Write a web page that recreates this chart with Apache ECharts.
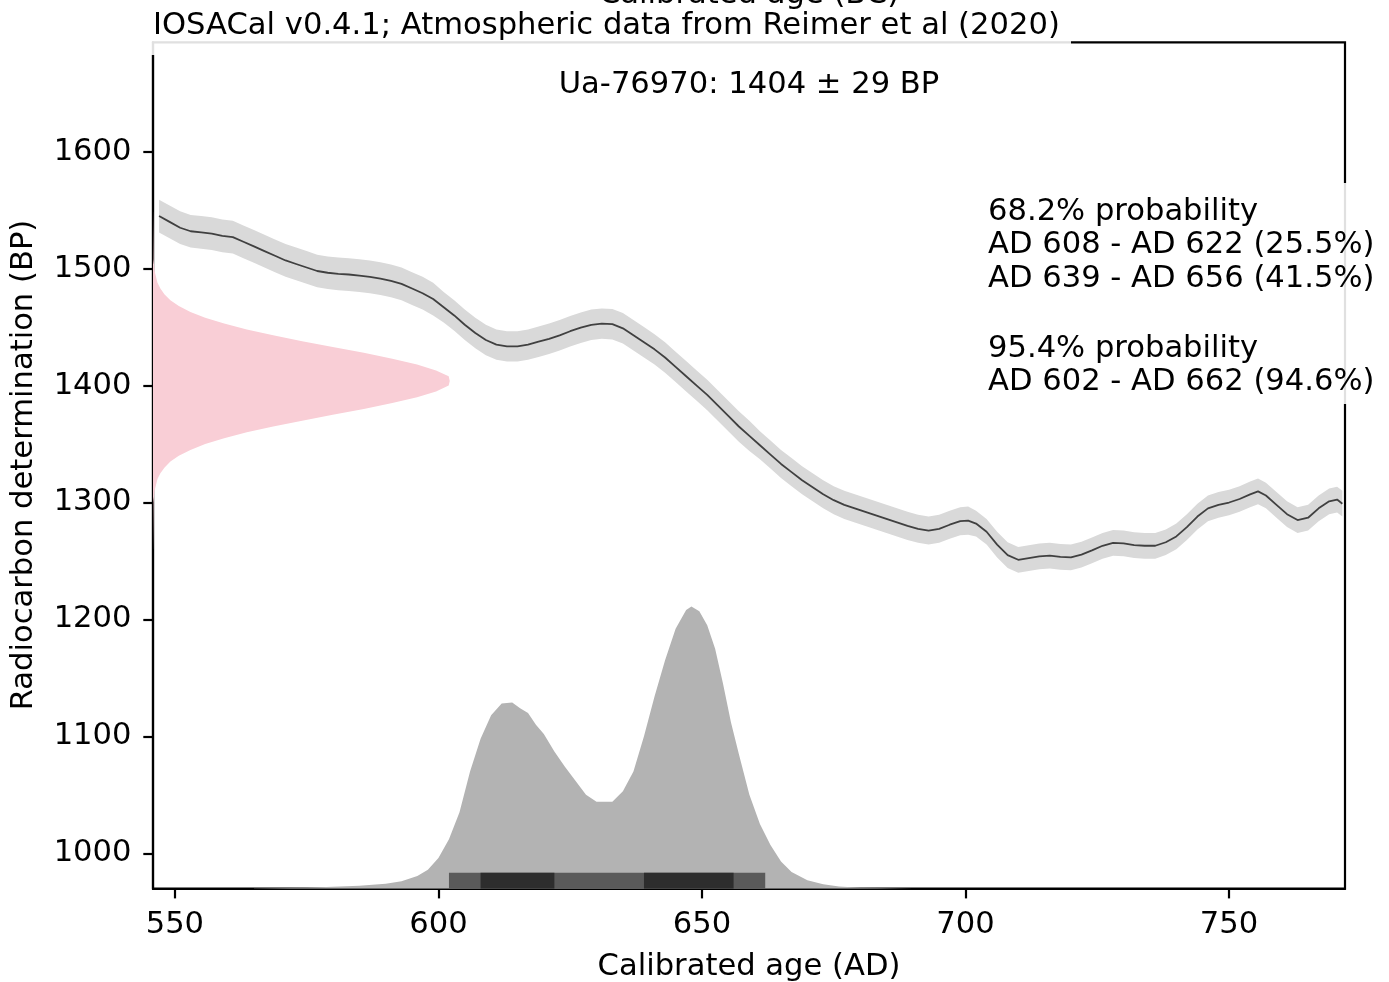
<!DOCTYPE html>
<html><head><meta charset="utf-8">
<script src="https://cdn.jsdelivr.net/npm/echarts@6.0.0/dist/echarts.min.js"></script>
<style>html,body{margin:0;padding:0;background:#fff}#c{width:1389px;height:982px}</style>
</head><body><div id="c"></div>
<script>
// ---------- data ----------
const xTicks = [550, 600, 650, 700, 750];
const yTicks = [1000, 1100, 1200, 1300, 1400, 1500, 1600];

// calibration curve (IntCal20) mean and 1-sigma
const curveYears = [547,549,551,553,555,557,559,561,563,565,567,569,571,573,575,577,579,581,583,585,587,589,591,593,595,597,599,601,603,605,607,609,611,613,615,617,619,621,623,625,627,629,631,633,635,637,639,641,643,645,647,649,651,653,655,657,659,661,663,665,667,669,671,673,675,677,679,681,683,685,687,689,691,693,695,697,699,700.5,702,704,706,708,710,712,714,716,718,720,722,724,726,728,730,732,734,736,738,740,742,744,746,748,750,752,754,755.5,757,759,761,763,765,767,769,770.5,771.5];
const curveBP = [1545,1540,1535,1532,1531,1530,1528,1527,1523,1519,1515,1511,1507,1504,1501,1498,1496.5,1495.5,1495,1494,1493,1491.5,1489.5,1487,1483,1479,1474,1467,1460,1452,1445,1439,1435,1433.5,1433.5,1435,1437.5,1440,1443,1446.5,1449.5,1452,1453,1452.5,1449,1443,1437,1431,1424,1416,1408,1400,1392,1383,1374,1365,1357,1349,1341,1333,1326,1319,1313,1307,1302,1298,1295,1292,1289,1286,1283,1280,1277.5,1276,1277.5,1281,1284,1284.5,1282,1275,1264,1255,1251,1252.5,1254,1254.5,1253.5,1253,1255.5,1259,1263,1265.5,1265,1263.5,1263,1263,1266,1271,1279,1288,1295,1298,1300,1303,1307,1309.5,1306,1298,1290,1285,1287,1295,1301,1302.5,1299];
const curveSigma = [14,14,14,14,14,14,14,14,14,14,14,14,14,14,14,14,14,14,14,14,14,14,14,14,14,14,14,13,13,13,13,13,13,13,13,13,13,13,13,13,13,13,13,13,13,13,13,13,13,13,13,13,13,13,13,13,13,12,12,12,12,12,12,12,12,12,12,12,12,12,12,12,12,12,12,12,12,12,11,11,11,11,11,11,11,11,11,11,11,11,11,11,11,11,11,11,11,11,11,11,11,11,11,11,11,11,11,11,11,11,11,11,11,11,11];

// radiocarbon determination 1404 ± 29 BP (pink profile along the y axis)
const pinkBP = [1256,1300,1310,1320,1325,1330,1335,1340,1345,1350,1355,1360,1365,1370,1375,1380,1385,1390,1395,1400,1404,1408,1413,1418,1423,1428,1433,1438,1443,1448,1453,1458,1463,1468,1473,1478,1483,1488,1498,1508,1552];
const pinkWidth = [0,0.09,0.3,0.85,1.4,2.2,3.3,4.9,7.1,9.9,13.5,17.8,22.8,28.3,34.1,40,45.4,50.1,53.7,56.1,56.3,56.1,53.7,50.1,45.4,40,34.1,28.3,22.8,17.8,13.5,9.9,7.1,4.9,3.3,2.2,1.4,0.85,0.3,0.09,0];

// calibrated age distribution (grey)
const calYears = [565,575,580,585,590,593,596,598,600,602,604,606,608,610,612,614,615.5,617,618.5,620,622,624,626,628,630,633,635,637,639,641,643,645,647,648,649.5,651,652.5,654,655.5,657,659,661,663,665,667,670,673,676,680,690];
const calValues = [969.9,970.5,971.3,972.3,974,976,980.5,986,996,1012,1035,1070,1098,1118,1128,1129,1124,1120,1110,1102,1087,1074,1062,1050,1044,1044,1053,1070,1100,1134,1165,1192,1208,1211,1207,1195,1175,1145,1112,1085,1050,1025,1007,993,984,977,973.5,971.5,970.5,969.9];

// HPD ranges
const hpd95 = [[602, 662]];
const hpd68 = [[608, 622], [639, 656]];

const titleText = 'IOSACal v0.4.1; Atmospheric data from Reimer et al (2020)';
const topAxisText = 'Calibrated age (BC)';
const sampleText = 'Ua-76970: 1404 \u00b1 29 BP';
const probLines = ['68.2% probability', 'AD 608 - AD 622 (25.5%)', 'AD 639 - AD 656 (41.5%)', '95.4% probability', 'AD 602 - AD 662 (94.6%)'];
const xName = 'Calibrated age (AD)';
const yName = 'Radiocarbon determination (BP)';

// ---------- layout ----------
const X_MIN = 545.85, X_MAX = 772.0, Y_MIN = 969.7, Y_MAX = 1693.6;
const FONT = '"DejaVu Sans", sans-serif';
const FS = 30.6;

const chart = echarts.init(document.getElementById('c'));

function bandRender(params, api) {
  if (params.dataIndex !== 0) return null;
  const pts = [];
  for (let i = 0; i < curveYears.length; i++) pts.push(api.coord([curveYears[i], curveBP[i] + curveSigma[i]]));
  for (let i = curveYears.length - 1; i >= 0; i--) pts.push(api.coord([curveYears[i], curveBP[i] - curveSigma[i]]));
  return { type: 'polygon', shape: { points: pts }, style: { fill: '#d9d9d9' } };
}
function pinkRender(params, api) {
  if (params.dataIndex !== 0) return null;
  const pts = [api.coord([X_MIN, pinkBP[0]])];
  for (let i = 0; i < pinkBP.length; i++) pts.push(api.coord([X_MIN + pinkWidth[i], pinkBP[i]]));
  pts.push(api.coord([X_MIN, pinkBP[pinkBP.length - 1]]));
  return { type: 'polygon', shape: { points: pts }, style: { fill: '#f9ced6' } };
}
const hpdData = hpd95.map(r => [r[0], r[1], 95]).concat(hpd68.map(r => [r[0], r[1], 68]));
function hpdRender(params, api) {
  const p1 = api.coord([api.value(0), Y_MIN]);
  const p2 = api.coord([api.value(1), Y_MIN]);
  return { type: 'rect', shape: { x: p1[0], y: p1[1] - 16, width: p2[0] - p1[0], height: 16 },
    style: { fill: api.value(2) === 95 ? '#5a5a5a' : '#2d2d2d' } };
}

const txt = (t, x, y, extra) => Object.assign({ type: 'text', z: 120, x: x, y: y,
  style: Object.assign({ text: t, font: FS + 'px ' + FONT, fill: '#000', align: 'left', verticalAlign: 'middle' }, extra || {}) });

const graphics = [
  { type: 'rect', z: 100, shape: { x: 140, y: 0, width: 931, height: 55 }, style: { fill: 'rgba(255,255,255,0.88)' } },
  { type: 'rect', z: 100, shape: { x: 978, y: 183, width: 411, height: 221 }, style: { fill: 'rgba(255,255,255,0.88)' } },
  txt(topAxisText, 749, -5, { align: 'center' }),
  txt(titleText, 153, 26.5),
  txt(sampleText, 749, 85, { align: 'center' }),
  txt(probLines[0], 988, 212),
  txt(probLines[1], 988, 245.3),
  txt(probLines[2], 988, 278.7),
  txt(probLines[3], 988, 348.7),
  txt(probLines[4], 988, 382),
  txt(xName, 749, 967, { align: 'center' }),
  Object.assign(txt(yName, 0, 0, { align: 'center' }), { x: 24.5, y: 465, rotation: Math.PI / 2 })
];

const axisCommon = {
  type: 'value',
  axisLine: { show: true, lineStyle: { color: '#000', width: 2.2 } },
  splitLine: { show: false },
};

chart.setOption({
  animation: false,
  backgroundColor: '#fff',
  grid: { left: 153, right: 44, top: 42.3, bottom: 93.3, show: true, borderColor: '#000', borderWidth: 2.2, backgroundColor: 'transparent' },
  xAxis: Object.assign({}, axisCommon, {
    min: X_MIN, max: X_MAX,
    axisTick: { show: true, length: 9.7, lineStyle: { color: '#000', width: 2.2 }, customValues: xTicks },
    axisLabel: { customValues: xTicks, color: '#000', fontSize: FS, fontFamily: FONT, margin: 21, formatter: v => String(v) }
  }),
  yAxis: Object.assign({}, axisCommon, {
    min: Y_MIN, max: Y_MAX,
    axisTick: { show: true, length: 9.7, lineStyle: { color: '#000', width: 2.2 }, customValues: yTicks },
    axisLabel: { customValues: yTicks, color: '#000', fontSize: FS, fontFamily: FONT, margin: 21.5, formatter: v => String(v) }
  }),
  series: [
    { type: 'custom', name: 'band', renderItem: bandRender, data: [[curveYears[0], curveBP[0]]], encode: { x: 0, y: 1 }, clip: true, z: 1, silent: true },
    { type: 'line', name: 'curve', data: curveYears.map((x, i) => [x, curveBP[i]]), symbol: 'none', lineStyle: { color: '#404040', width: 1.8 }, z: 2, silent: true },
    { type: 'custom', name: 'pink', renderItem: pinkRender, data: [[X_MIN, pinkBP[0]]], encode: { x: 0, y: 1 }, clip: true, z: 2, silent: true },
    { type: 'line', name: 'calibrated', data: calYears.map((x, i) => [x, calValues[i]]), symbol: 'none', lineStyle: { width: 0 }, areaStyle: { color: '#b3b3b3', opacity: 1, origin: 'start' }, z: 3, silent: true },
    { type: 'custom', name: 'hpd', renderItem: hpdRender, data: hpdData, encode: { x: [0, 1] }, clip: true, z: 4, silent: true }
  ],
  graphic: graphics
});
</script>
</body></html>
